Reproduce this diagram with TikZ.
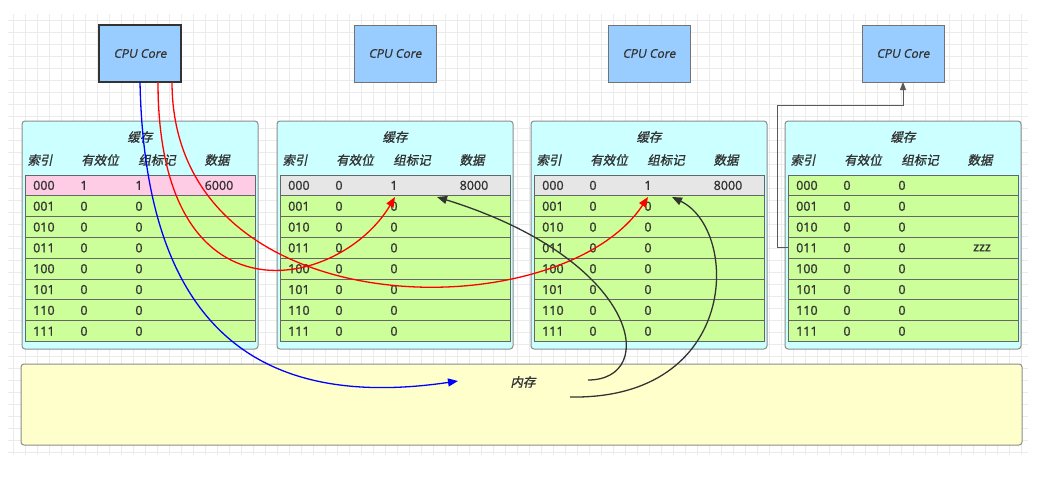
\documentclass[tikz,border=0pt]{standalone}
\usepackage{fontspec}
\setmainfont{Open Sans}
\newfontfamily\cjk{Noto Sans CJK SC}[FakeSlant=0.2,FakeBold=1.2]
\newfontfamily\itf{Open Sans}[FakeSlant=0.2,FakeBold=1.0]
\newfontfamily\cellf{Open Sans}[FakeBold=1.4]
\usetikzlibrary{arrows.meta,calc}
\definecolor{cpufill}{HTML}{99CCFF}
\definecolor{cachefill}{HTML}{CCFFFF}
\definecolor{rowgreen}{HTML}{CCFF99}
\definecolor{rowpink}{HTML}{FFCCE6}
\definecolor{rowgray}{HTML}{E6E6E6}
\definecolor{memfill}{HTML}{FFFFCC}
\definecolor{txt}{HTML}{333333}
\definecolor{gridc}{HTML}{EBEBEB}
\definecolor{darkline}{HTML}{333333}
\begin{document}
\begin{tikzpicture}[x=1pt,y=-1pt,
  cpu/.style={draw=black!55, line width=1pt, fill=cpufill, minimum width=82pt, minimum height=57pt, inner sep=0pt, outer sep=0pt, font=\itf\fontsize{12}{14}\selectfont, text=txt},
  cachebox/.style={draw=black!45, line width=1pt, fill=cachefill, rounded corners=3pt, minimum width=236pt, minimum height=228pt, inner sep=0pt, outer sep=0pt, anchor=north west},
  rowbox/.style={draw=black!60, line width=1pt, fill=rowgreen, minimum width=230pt, minimum height=20.83pt, inner sep=0pt, outer sep=0pt, anchor=north west},
  memb/.style={draw=black!45, line width=1pt, fill=memfill, rounded corners=3pt, minimum width=1001pt, minimum height=81pt, inner sep=0pt, outer sep=0pt, anchor=north west},
  cell/.style={font=\cellf\fontsize{12.5}{14}\selectfont, text=txt, inner sep=0pt},
  hdr/.style={font=\cjk\fontsize{12.5}{14}\selectfont, text=txt, inner sep=0pt},
  link/.style={line width=1.3pt, -{Triangle[length=10pt,width=8pt]}},
  elbow/.style={line width=0.9pt, draw=black!65, -{Triangle[length=8pt,width=6pt]}},
]
\useasboundingbox (0,0) rectangle (1057,477);
\fill[white] (0,0) rectangle (1057,477);
% grid
\foreach \gx in {13,25,...,1025} \draw[gridc, line width=0.7pt] (\gx,14) -- (\gx,455);
\foreach \gy in {20,32,...,452} \draw[gridc, line width=0.7pt] (8,\gy) -- (1028,\gy);

% CPU cores
\node[cpu, draw=darkline, line width=1.3pt] (cpu1) at (140,53.5) {CPU Core};
\node[cpu] (cpu2) at (395,53.5) {CPU Core};
\node[cpu] (cpu3) at (649,53.5) {CPU Core};
\node[cpu] (cpu4) at (903,53.5) {CPU Core};

% caches
\foreach \b/\x/\fc/\v/\t/\d in {1/22/rowpink/1/1/6000, 2/277/rowgray/0/1/8000, 3/531/rowgray/0/1/8000, 4/785/rowgreen/0/0/{}}{
  \node[cachebox] (cache\b) at (\x,121) {};
  \node[hdr] (title\b) at (\x+118,137) {缓存};
  \node[hdr] (hidx\b) at (\x+18,160) {索引};
  \node[hdr] (hval\b) at (\x+78,160) {有效位};
  \node[hdr] (htag\b) at (\x+135,160) {组标记};
  \node[hdr] (hdat\b) at (\x+195,160) {数据};
  \node[rowbox, fill=\fc] (r\b-0) at (\x+3,175) {};
  \node[cell, anchor=west] (i\b-0) at (\x+11,185.4) {000};
  \node[cell] (v\b-0) at (\x+62,185.4) {\v};
  \node[cell] (t\b-0) at (\x+117,185.4) {\t};
  \node[cell] (d\b-0) at (\x+197,185.4) {\d};
  \foreach \r/\idx in {1/001,2/010,3/011,4/100,5/101,6/110,7/111}{
    \node[rowbox] (r\b-\r) at (\x+3,{175+\r*20.83}) {};
    \node[cell, anchor=west] (i\b-\r) at (\x+11,{185.4+\r*20.83}) {\idx};
    \node[cell] (v\b-\r) at (\x+62,{185.4+\r*20.83}) {0};
    \node[cell] (t\b-\r) at (\x+117,{185.4+\r*20.83}) {0};
  }
}
\node[cell] (zzz) at (982,{185.4+3*20.83}) {zzz};

% memory
\node[memb] (mem) at (21,364) {};
\node[hdr] (memlabel) at (523,382) {内存};

% connector end points
\coordinate (ra0) at (158,82);
\coordinate (ra1) at (395,197);
\coordinate (rb0) at (172,82);
\coordinate (rb1) at (648,197);
\coordinate (mb) at (458,381);
\coordinate (g1s) at (588,380);
\coordinate (g1e) at (437,197);
\coordinate (g2s) at (570,397);
\coordinate (g2e) at (672,197);
\coordinate (k4) at (777,105);

% connectors
\draw[link, draw=blue] (cpu1.south) .. controls (145,330) and (260,410) .. (mb);
\draw[link, draw=red] (ra0) .. controls (158,330) and (340,290) .. (ra1);
\draw[link, draw=red] (rb0) .. controls (172,330) and (560,330) .. (rb1);
\draw[link, draw=darkline] (g1s) .. controls (660,380) and (640,260) .. (g1e);
\draw[link, draw=darkline] (g2s) .. controls (740,400) and (740,230) .. (g2e);
\draw[elbow] (r4-3.west) -| (k4) -| (cpu4.south);
\end{tikzpicture}
\end{document}
